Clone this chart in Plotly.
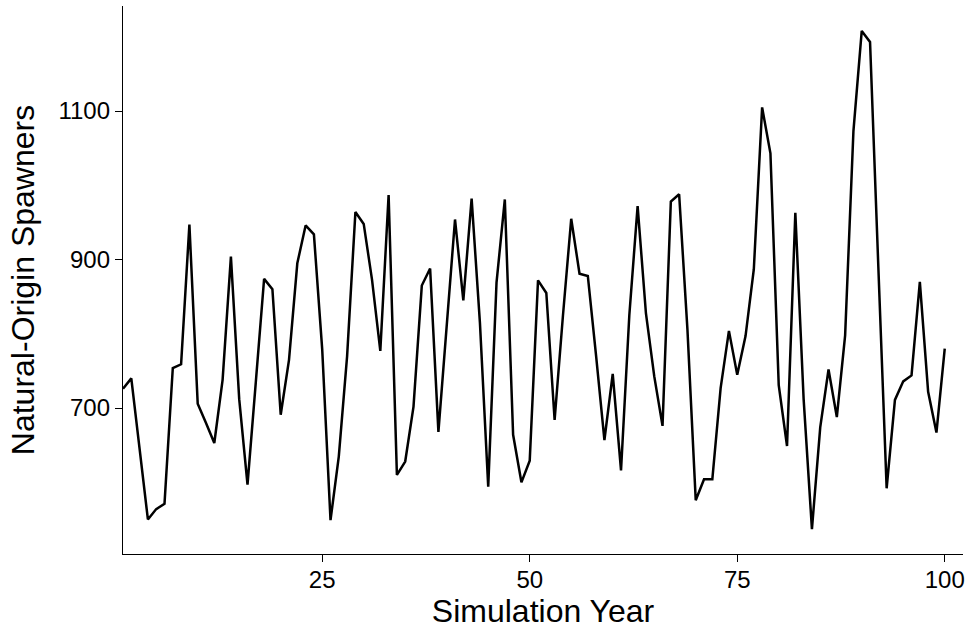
import plotly.graph_objects as go

# Simulated natural-origin spawner abundance over a 100-year run
years = list(range(1, 101))
spawners = [
    726, 740, 645, 550, 564, 571, 754, 759, 947, 706,
    680, 653, 738, 904, 712, 597, 735, 874, 860, 691,
    765, 895, 946, 934, 779, 549, 635, 770, 964, 948,
    873, 777, 987, 610, 628, 702, 865, 888, 668, 810,
    954, 845, 982, 815, 594, 869, 981, 664, 600, 629,
    872, 855, 684, 824, 955, 881, 878, 770, 657, 746,
    616, 825, 972, 828, 743, 676, 978, 988, 806, 576,
    604, 604, 727, 804, 745, 797, 887, 1105, 1043, 731,
    649, 963, 712, 537, 674, 752, 688, 798, 1073, 1208,
    1193, 890, 592, 711, 736, 744, 870, 722, 667, 780,
]

x_ticks = [25, 50, 75, 100]
y_ticks = [700, 900, 1100]

FONT = "Liberation Sans, Arial, Helvetica, sans-serif"

fig = go.Figure(
    go.Scatter(
        x=years,
        y=spawners,
        mode="lines",
        line=dict(color="black", width=2.5),
        hoverinfo="x+y",
    )
)

axis_style = dict(
    showline=True,
    linecolor="black",
    linewidth=1.3,
    ticks="outside",
    ticklen=7,
    tickwidth=1.3,
    tickcolor="black",
    showgrid=False,
    zeroline=False,
    tickfont=dict(family=FONT, size=24, color="black"),
    automargin=False,
)

fig.update_layout(
    width=972,
    height=632,
    margin=dict(l=123, r=9, t=6, b=78),
    paper_bgcolor="white",
    plot_bgcolor="white",
    showlegend=False,
    font=dict(family=FONT, color="black"),
    xaxis=dict(
        range=[1, 102.2],
        tickvals=x_ticks,
        ticklabelstandoff=-3,
        title=dict(text="Simulation Year", font=dict(family=FONT, size=32), standoff=2),
        **axis_style,
    ),
    yaxis=dict(
        range=[503.5, 1241.5],
        tickvals=y_ticks,
        title=dict(text="Natural-Origin Spawners", font=dict(family=FONT, size=32), standoff=14),
        **axis_style,
    ),
)

fig.write_html("out.html")
